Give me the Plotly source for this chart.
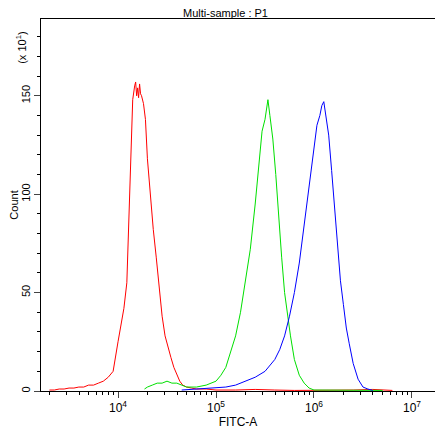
import plotly.graph_objects as go

red_logx = [3.30,3.35,3.40,3.45,3.50,3.55,3.60,3.65,3.70,3.75,3.80,3.85,3.90,3.95,4.00,4.03,4.06,4.09,4.11,4.13,4.15,4.17,4.18,4.19,4.20,4.21,4.22,4.23,4.24,4.26,4.28,4.30,4.33,4.36,4.39,4.42,4.45,4.48,4.51,4.54,4.57,4.60,4.63,4.66,4.70,4.75,4.80,4.90,5.00,5.20,5.40,5.60,5.80,6.40,6.60,6.80]
red_y =    [0.5,0.5,1,1,1.5,1.5,2,2,3,3,4,5,7,10,25,34,42,55,85,125,148,155,157,150,154,149,156,151,150,146,138,118,98,82,68,52,38,28,22,17,12,8,5,3,2,1.5,1,1,0.5,0.5,0.8,0.5,0.3,0.5,0.8,0.3]

green_logx = [4.27,4.30,4.35,4.40,4.45,4.50,4.55,4.60,4.65,4.70,4.80,4.90,5.00,5.05,5.10,5.15,5.20,5.25,5.30,5.35,5.40,5.44,5.47,5.50,5.52,5.53,5.55,5.58,5.61,5.64,5.67,5.70,5.73,5.76,5.80,5.85,5.90,5.95,6.00,6.60,6.70]
green_y =    [1,2,3,4,4,5,4,4,3,2,2,3,5,8,12,20,28,40,55,72,95,118,132,138,145,148,140,128,110,88,68,50,38,28,16,8,4,1.5,0.5,0.5,0.3]

blue_logx = [4.65,4.80,4.95,5.10,5.20,5.30,5.40,5.50,5.55,5.60,5.65,5.70,5.75,5.80,5.85,5.90,5.95,6.00,6.03,6.06,6.08,6.10,6.12,6.15,6.18,6.21,6.24,6.27,6.30,6.33,6.36,6.40,6.45,6.50,6.55,6.60]
blue_y =    [0.5,1,1.5,2,3,5,7,10,13,16,21,28,38,50,65,85,105,122,135,140,145,147,140,130,112,92,72,56,44,32,24,14,6,2,1,0.3]

fig = go.Figure()
for lx, y, c in [(red_logx, red_y, "#ff0000"), (green_logx, green_y, "#00e000"), (blue_logx, blue_y, "#0000ff")]:
    fig.add_trace(go.Scatter(x=[10**v for v in lx], y=y, mode="lines",
                             line=dict(color=c, width=1), showlegend=False))

minor_x = []
for d in range(3, 8):
    for m in range(2, 10):
        minor_x.append(m * 10**d)

fig.update_layout(
    width=435, height=422, margin=dict(l=33, r=8, t=11, b=39, autoexpand=False),
    plot_bgcolor="white", paper_bgcolor="white",
    font=dict(family="Liberation Sans, Arial", size=11, color="black"),
    title=dict(text="Multi-sample : P1", x=0.5, xanchor="center", y=0.997, yanchor="top", font=dict(size=11)),
    xaxis=dict(type="log", range=[3.214, 7.235], showgrid=False, zeroline=False, automargin=False,
               showline=True, linecolor="black", mirror=True, ticks="outside", ticklen=6,
               tickvals=[1e4, 1e5, 1e6, 1e7], ticktext=["10<sup>4</sup>", "10<sup>5</sup>", "10<sup>6</sup>", "10<sup>7</sup>"],
               tickfont=dict(size=12),
               minor=dict(tickvals=minor_x, ticks="outside", ticklen=3, tickcolor="black"),
               title=dict(text="FITC-A", standoff=2, font=dict(size=12))),
    yaxis=dict(range=[0, 189], showgrid=False, zeroline=False, automargin=False,
               showline=True, linecolor="black", mirror=True, ticks="outside", ticklen=6,
               tickvals=[0, 50, 100, 150], tickangle=-90,
               minor=dict(dtick=10, tick0=0, ticks="outside", ticklen=3, tickcolor="black"),
               title=dict(text="Count", standoff=2, font=dict(size=11))),
)
fig.add_annotation(text="(x 10<sup>1</sup>)", xref="paper", yref="paper", x=-0.072, y=0.97,
                   showarrow=False, textangle=-90, font=dict(size=11))
fig.write_html("out.html")
